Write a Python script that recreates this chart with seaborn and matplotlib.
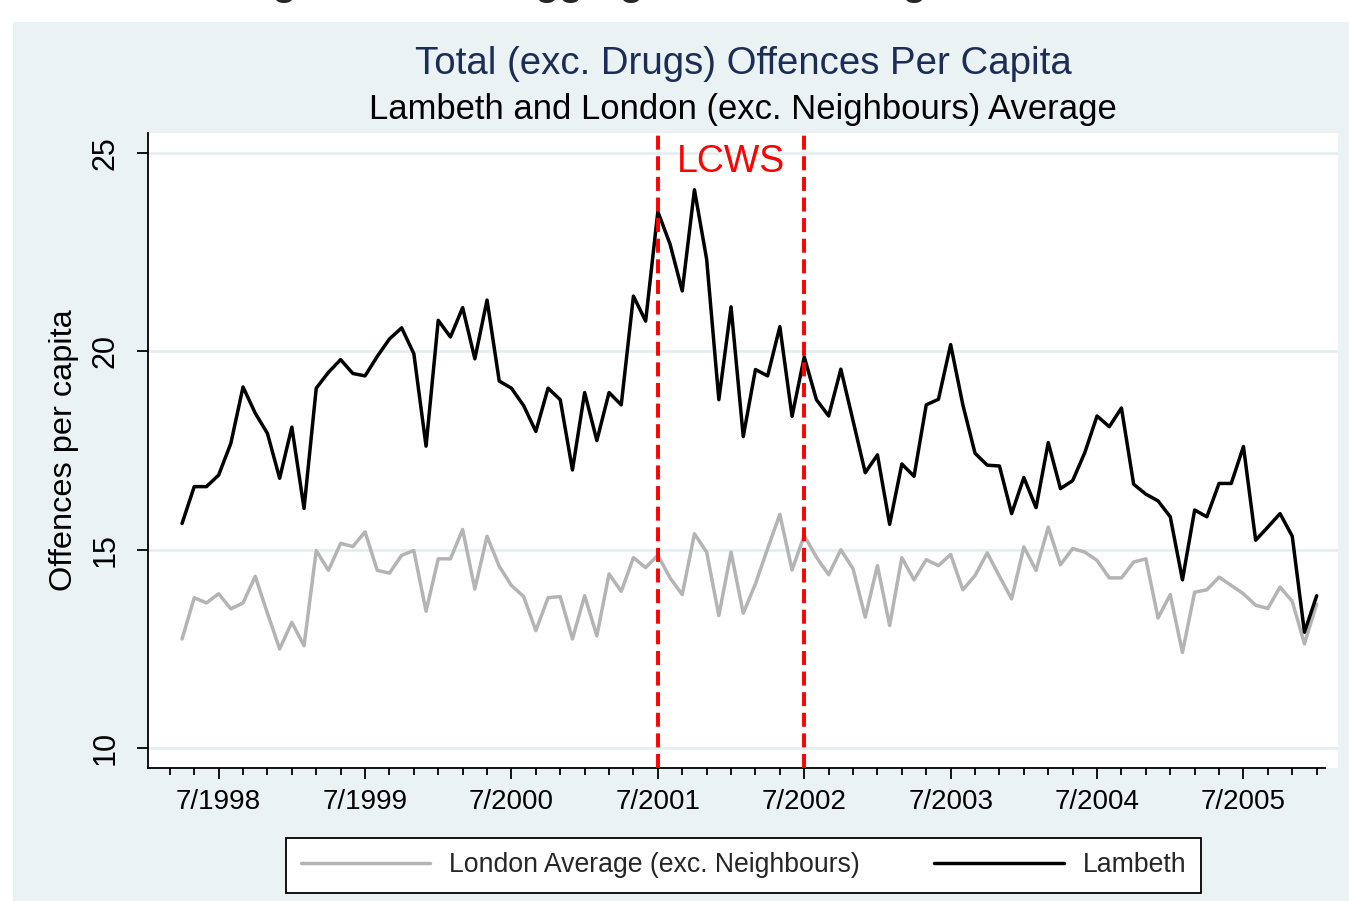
import numpy as np
import pandas as pd
import matplotlib
matplotlib.use("Agg")
import matplotlib.pyplot as plt
from matplotlib.lines import Line2D
from matplotlib.patches import Rectangle
import seaborn as sns

# Monthly series, April 1998 to January 2006
months = pd.period_range("1998-04", "2006-01", freq="M")

lambeth = [
    15.66, 16.59, 16.59, 16.88, 17.68, 19.10, 18.44, 17.93, 16.80, 18.09,
    16.04, 19.07, 19.47, 19.79, 19.44, 19.38, 19.87, 20.31, 20.59, 19.94,
    17.61, 20.78, 20.36, 21.10, 19.81, 21.29, 19.25, 19.07, 18.63, 17.98,
    19.07, 18.78, 17.01, 18.96, 17.75, 18.96, 18.65, 21.39, 20.76, 23.52,
    22.70, 21.52, 24.07, 22.32, 18.78, 21.12, 17.85, 19.54, 19.38, 20.62,
    18.36, 19.86, 18.78, 18.37, 19.55, 18.25, 16.94, 17.39, 15.64, 17.16,
    16.85, 18.65, 18.79, 20.17, 18.65, 17.43, 17.13, 17.11, 15.91, 16.82,
    16.06, 17.70, 16.54, 16.74, 17.45, 18.37, 18.10, 18.57, 16.65, 16.40,
    16.23, 15.83, 14.24, 16.00, 15.83, 16.67, 16.67, 17.60, 15.24, 15.57,
    15.91, 15.34, 12.92, 13.84,
]

london = [
    12.75, 13.79, 13.66, 13.89, 13.51, 13.66, 14.33, 13.40, 12.50, 13.17,
    12.58, 14.98, 14.48, 15.16, 15.08, 15.45, 14.48, 14.41, 14.86, 14.98,
    13.45, 14.77, 14.77, 15.51, 14.01, 15.34, 14.58, 14.10, 13.82, 12.96,
    13.79, 13.82, 12.75, 13.84, 12.83, 14.39, 13.95, 14.80, 14.55, 14.86,
    14.29, 13.87, 15.40, 14.94, 13.34, 14.94, 13.40, 14.14, 15.03, 15.89,
    14.49, 15.36, 14.81, 14.37, 15.00, 14.52, 13.30, 14.60, 13.09, 14.80,
    14.24, 14.75, 14.60, 14.88, 13.99, 14.35, 14.92, 14.33, 13.76, 15.07,
    14.48, 15.57, 14.62, 15.03, 14.94, 14.73, 14.29, 14.29, 14.69, 14.77,
    13.28, 13.87, 12.41, 13.93, 13.99, 14.31, 14.10, 13.89, 13.60, 13.52,
    14.06, 13.70, 12.63, 13.63,
]

series_names = ["London Average (exc. Neighbours)", "Lambeth"]
series_colors = ["#b4b4b4", "#000000"]
lcws_start, lcws_end = "2001-07", "2002-07"
y_ticks = [10, 15, 20, 25]

month_idx = np.arange(len(months))
df = pd.DataFrame({
    "month": np.concatenate([month_idx, month_idx]),
    "value": np.concatenate([london, lambeth]),
    "series": [series_names[0]] * len(months) + [series_names[1]] * len(months),
})

sns.set_theme(style="white")
plt.rcParams["font.family"] = ["Liberation Sans", "DejaVu Sans"]

W, H = 1349, 901
fig = plt.figure(figsize=(W / 100, H / 100), dpi=100)
fig.patch.set_facecolor("white")
BG = "#eaf2f3"
fig.add_artist(Rectangle((13 / W, 0), 1 - 13 / W, (H - 22) / H,
                         transform=fig.transFigure, facecolor=BG,
                         edgecolor="none", zorder=0))

ax = fig.add_axes([148 / W, (H - 768) / H, 1190 / W, 635 / H])
ax.set_facecolor("white")

sns.lineplot(data=df, x="month", y="value", hue="series",
             hue_order=series_names, palette=dict(zip(series_names, series_colors)),
             linewidth=2.5, legend=False, ax=ax, zorder=3)

# plot window
x_left = -2.79
x_right = 94.75
ax.set_xlim(x_left, x_right)
ax.set_ylim(9.5, 25.5)

# horizontal grid
for v in y_ticks:
    ax.axhline(v, color="#e3ecee", lw=1.8, zorder=1)

# intervention window
pos = {str(m): i for i, m in enumerate(months)}
for m in (lcws_start, lcws_end):
    ax.axvline(pos[m], color="#ff0000", lw=2.8, linestyle=(0, (3.6, 1.7)), zorder=5)
ax.text((pos[lcws_start] + pos[lcws_end]) / 2, 24.77, "LCWS", color="#ff0000",
        fontsize=27, ha="center", va="center", zorder=6)

# axes
for s in ("top", "right"):
    ax.spines[s].set_visible(False)
for s in ("left", "bottom"):
    ax.spines[s].set_color("black")
    ax.spines[s].set_linewidth(1.3)
ax.spines["bottom"].set_bounds(x_left, 93.7)

ax.set_yticks(y_ticks)
ax.set_yticklabels([str(v) for v in y_ticks], rotation=90, va="center", fontsize=22)
july = [i for i, m in enumerate(months) if m.month == 7]
ax.set_xticks(july)
ax.set_xticklabels([f"7/{months[i].year}" for i in july], fontsize=20)
ax.set_xticks([i for i in range(-1, len(months), 2)], minor=True)
ax.tick_params(axis="both", which="major", direction="out", length=8, width=1.3,
               color="black", bottom=True, left=True, labelcolor="black")
ax.tick_params(axis="y", pad=12)
ax.tick_params(axis="x", which="major", pad=7)
ax.tick_params(axis="x", which="minor", direction="out", length=5, width=1.3,
               color="black", bottom=True)
ax.set_xlabel("")
ax.set_ylabel("Offences per capita", fontsize=23.4, labelpad=8, color="black")

# titles
cx = (148 + 1338) / 2 / W
fig.text(cx, 1 - 64 / H, "Total (exc. Drugs) Offences Per Capita", color="#1c2d55",
         fontsize=27.6, ha="center", va="center")
fig.text(cx, 1 - 109 / H, "Lambeth and London (exc. Neighbours) Average", color="black",
         fontsize=24.9, ha="center", va="center")
# page caption running off the top edge: only its descenders stay on the canvas
fig.text(0.5 + 30 / W, 1 + 5 / H, "Figure 2: Total aggregate offences against London",
         fontsize=28, fontweight="bold", ha="center", va="baseline")

handles = [Line2D([], [], color=c, lw=2.5) for c in series_colors]
leg = fig.legend(handles, series_names, loc="center",
                 bbox_to_anchor=(743.5 / W, 1 - 865.5 / H), ncol=2,
                 frameon=True, fancybox=False, framealpha=1, edgecolor="black",
                 fontsize=19.2, handlelength=4.87, handletextpad=0.71,
                 columnspacing=2.77, borderpad=0.56)
leg.get_frame().set_linewidth(1.3)

fig.savefig("out.png", dpi=100)
